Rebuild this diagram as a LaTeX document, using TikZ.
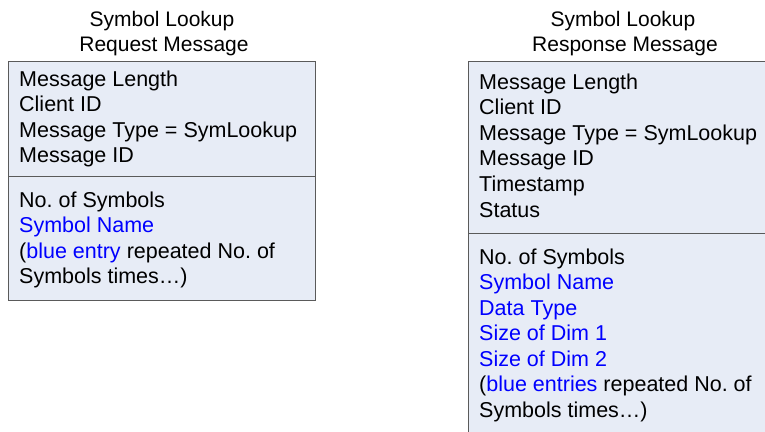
\documentclass[tikz,border=0pt]{standalone}
\usepackage{fontspec}
\setmainfont{Liberation Sans}
\frenchspacing
\definecolor{boxfill}{HTML}{E7ECF6}
\definecolor{boxline}{HTML}{5A5A5A}
\definecolor{entryblue}{HTML}{0000FF}
\begin{document}
\begin{tikzpicture}[x=1pt,y=-1pt,
  msgbox/.style={draw=boxline,fill=boxfill,line width=1pt,rectangle,inner sep=0pt,anchor=north west},
  divider/.style={draw=boxline,line width=1pt},
  fieldtxt/.style={anchor=base west,inner sep=0pt,font=\fontsize{21.5}{25.6}\selectfont},
  titletxt/.style={anchor=base,inner sep=0pt,font=\fontsize{21}{25}\selectfont},
  blue/.style={text=entryblue}]
\useasboundingbox (0,0) rectangle (765,431);
\clip (0,0) rectangle (765,431);
% titles
\node[titletxt] (t1a) at (162,26) {Symbol Lookup};
\node[titletxt] (t1b) at (164,51) {Request Message};
\node[titletxt] (t2a) at (623,26) {Symbol Lookup};
\node[titletxt] (t2b) at (625,51) {Response Message};
% boxes
\node[msgbox,minimum width=307pt,minimum height=239pt] (req) at (8,61) {};
\node[msgbox,minimum width=314pt,minimum height=400pt] (resp) at (468,61) {};
\coordinate (reqdivL) at (8,176);
\coordinate (reqdivR) at (315,176);
\coordinate (respdivL) at (468,233);
\coordinate (respdivR) at (782,233);
\draw[divider] (reqdivL) -- (reqdivR);
\draw[divider] (respdivL) -- (respdivR);
% request fields
\node[fieldtxt] (l1) at (19,86) {Message Length};
\node[fieldtxt] (l2) at (19,111.6) {Client ID};
\node[fieldtxt] (l3) at (19,137.2) {Message Type = SymLookup};
\node[fieldtxt] (l4) at (19,162.8) {Message ID};
\node[fieldtxt] (l5) at (19,207) {No. of Symbols};
\node[fieldtxt,blue] (l6) at (19,232.5) {Symbol Name};
\node[fieldtxt] (l7) at (19,258) {(\textcolor{entryblue}{blue entry} repeated No. of};
\node[fieldtxt] (l8) at (19,283.5) {Symbols times…)};
% response fields
\node[fieldtxt] (r1) at (479,89) {Message Length};
\node[fieldtxt] (r2) at (479,114.6) {Client ID};
\node[fieldtxt] (r3) at (479,140.2) {Message Type = SymLookup};
\node[fieldtxt] (r4) at (479,165.8) {Message ID};
\node[fieldtxt] (r5) at (479,191.4) {Timestamp};
\node[fieldtxt] (r6) at (479,217) {Status};
\node[fieldtxt] (r7) at (479,264) {No. of Symbols};
\node[fieldtxt,blue] (r8) at (479,289.5) {Symbol Name};
\node[fieldtxt,blue] (r9) at (479,315) {Data Type};
\node[fieldtxt,blue] (r10) at (479,340.5) {Size of Dim 1};
\node[fieldtxt,blue] (r11) at (479,366) {Size of Dim 2};
\node[fieldtxt] (r12) at (479,391.5) {(\textcolor{entryblue}{blue entries} repeated No. of};
\node[fieldtxt] (r13) at (479,417) {Symbols times…)};
\end{tikzpicture}
\end{document}
